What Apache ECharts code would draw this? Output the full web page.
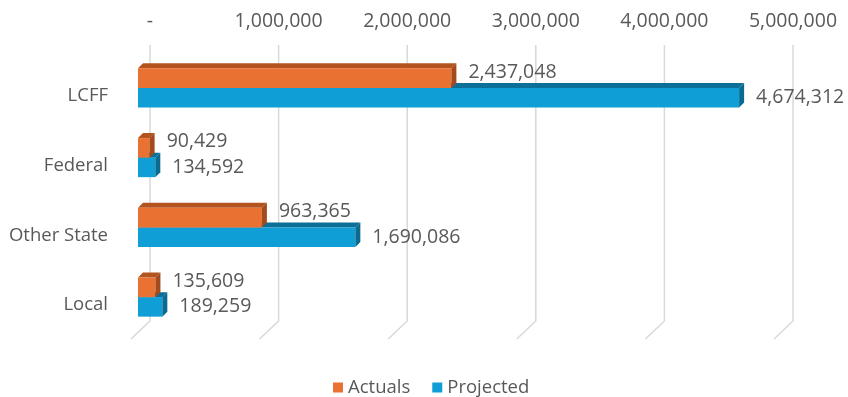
<!DOCTYPE html>
<html>
<head>
<meta charset="utf-8">
<script src="https://cdn.jsdelivr.net/npm/echarts@6/dist/echarts.min.js"></script>
<style>
  html, body { margin: 0; padding: 0; background: #ffffff; }
  #chart { width: 848px; height: 397px; }
</style>
</head>
<body>
<div id="chart"></div>
<script>
// Revenue by source: actuals vs. projected
const categories = ['LCFF', 'Federal', 'Other State', 'Local'];
const actuals = [2437048, 90429, 963365, 135609];
const projected = [4674312, 134592, 1690086, 189259];
const tickValues = [0, 1000000, 2000000, 3000000, 4000000, 5000000];

const FONT = '"Open Sans", "Liberation Sans", sans-serif';
const TEXT = '#595959';
const GRID_LINE = '#d9d9d9';

// front faces sit a little in front of (left of) the back wall gridlines
const SHIFT = 12;
// depth of the extruded bars
const DX = 5, DY = 5;

const fmt = v => v === 0 ? '-' : v.toLocaleString('en-US');

function barRenderer(slot, front, top, side) {
  return function (params, api) {
    const v = api.value(0), c = api.value(1);
    const end = api.coord([v, c]);
    const start = api.coord([0, c]);
    const band = api.size([0, 1])[1];
    const h = band * 0.28;
    const y0 = slot === 0 ? end[1] - h : end[1];
    const x0 = start[0] - SHIFT, x1 = end[0] - SHIFT;
    const labelY = slot === 0 ? y0 + h / 2 - 6 : y0 + h / 2;
    return {
      type: 'group',
      children: [
        { type: 'polygon', shape: { points: [[x0, y0], [x0 + DX, y0 - DY], [x1 + DX, y0 - DY], [x1, y0]] },
          style: { fill: top } },
        { type: 'rect', shape: { x: x0, y: y0, width: x1 - x0, height: h },
          style: { fill: front } },
        { type: 'polygon', shape: { points: [[x1, y0], [x1 + DX, y0 - DY], [x1 + DX, y0 + h - DY], [x1, y0 + h]] },
          style: { fill: side } },
        { type: 'text', x: x1 + 17, y: labelY,
          style: { text: fmt(v), fill: TEXT, font: '19.5px ' + FONT, verticalAlign: 'middle', align: 'left' } }
      ]
    };
  };
}

function gridRenderer(params, api) {
  const x = api.coord([api.value(0), 0])[0];
  const cs = params.coordSys;
  const yTop = cs.y - 8;
  const yBottom = cs.y + cs.height - 11;
  return {
    type: 'polyline',
    shape: { points: [[x, yTop], [x, yBottom], [x - 19, yBottom + 18]] },
    style: { stroke: GRID_LINE, lineWidth: 1.5, fill: null }
  };
}

const chart = echarts.init(document.getElementById('chart'));
chart.setOption({
  animation: false,
  backgroundColor: '#ffffff',
  grid: { left: 150, right: 55, top: 53, height: 279 },
  xAxis: {
    type: 'value',
    position: 'top',
    min: 0, max: 5000000, interval: 1000000,
    axisLine: { show: false },
    axisTick: { show: false },
    splitLine: { show: false },
    axisLabel: { formatter: fmt, color: TEXT, fontFamily: FONT, fontSize: 19.5, margin: 22 }
  },
  yAxis: {
    type: 'category',
    data: categories,
    inverse: true,
    axisLine: { show: false },
    axisTick: { show: false },
    axisLabel: {
      margin: 42,
      formatter: v => '{c|' + v + '}',
      rich: { c: { color: TEXT, fontFamily: FONT, fontSize: 18.5, padding: [16, 0, 0, 0] } }
    }
  },
  legend: {
    data: [{ name: 'Actuals', icon: 'rect' }, { name: 'Projected', icon: 'rect' }],
    top: 373, left: 328,
    itemWidth: 10, itemHeight: 10, itemGap: 22,
    textStyle: { color: TEXT, fontFamily: FONT, fontSize: 18.5 }
  },
  series: [
    {
      name: 'gridlines', type: 'custom', z: 1, silent: true,
      renderItem: gridRenderer,
      encode: { x: 0 },
      data: tickValues.map(v => [v, 0])
    },
    {
      name: 'Projected', type: 'custom', z: 2, clip: false,
      itemStyle: { color: '#0F9ED5' },
      renderItem: barRenderer(1, '#0F9ED5', '#0B6F97', '#0A6A8F'),
      encode: { x: 0, y: 1 },
      data: projected.map((v, i) => [v, i])
    },
    {
      name: 'Actuals', type: 'custom', z: 3, clip: false,
      itemStyle: { color: '#E97132' },
      renderItem: barRenderer(0, '#E97132', '#B3541F', '#A34B1C'),
      encode: { x: 0, y: 1 },
      data: actuals.map((v, i) => [v, i])
    }
  ]
});
</script>
</body>
</html>
